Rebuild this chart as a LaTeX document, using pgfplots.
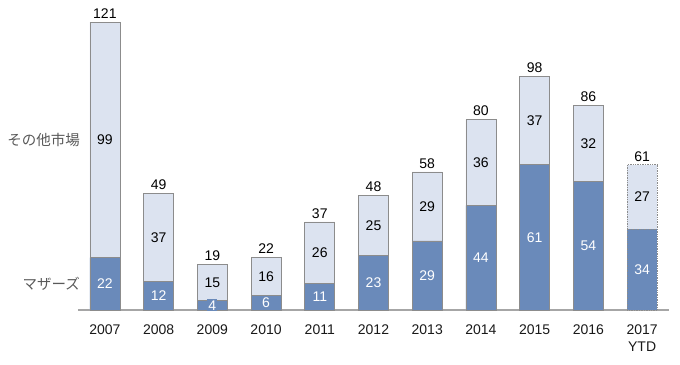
\documentclass[border=0pt]{standalone}
\usepackage{fontspec}
\setmainfont{Liberation Sans}
\newfontfamily\cjk{Noto Sans CJK JP}
\usepackage{pgfplots}
\pgfplotsset{compat=1.18}
\usepackage{pgfplotstable}
\definecolor{mblue}{HTML}{6A8ABA}
\definecolor{olight}{HTML}{DCE3F0}
\definecolor{edgegray}{HTML}{8C8C8C}
\definecolor{axisgray}{HTML}{A6A6A6}
\definecolor{labgray}{HTML}{595959}
\newcommand\numfont{\fontsize{14bp}{17bp}\selectfont}
\pgfplotstableread{
i m o t
0 22 99 121
1 12 37 49
2 4 15 19
3 6 16 22
4 11 26 37
5 23 25 48
6 29 29 58
7 44 36 80
8 61 37 98
9 54 32 86
10 34 27 61
}\data
\begin{document}
\begin{tikzpicture}
\begin{axis}[
  at={(0,0)}, anchor=south west,
  scale only axis, width=591bp, height=309.4bp,
  xmin=-0.5, xmax=10.5, ymin=0, ymax=130,
  ybar, bar width=30bp, bar shift=0pt,
  axis x line*=bottom, axis y line=none,
  x axis line style={draw=axisgray, line width=1.3bp},
  xtick={0,...,10}, major tick length=0pt,
  xticklabels={2007,2008,2009,2010,2011,2012,2013,2014,2015,2016,{2017\\YTD}},
  xticklabel style={align=center, font=\numfont, text=black!90, yshift=-11bp},
  clip=false,
  /pgf/number format/assume math mode=true,
]
\addplot[fill=olight, draw=edgegray, line width=0.7bp, restrict x to domain=0:9,
  nodes near coords, point meta=y,
  every node near coord/.append style={font=\numfont, text=black, anchor=south, yshift=0bp}]
  table[x=i, y=t]{\data};
\addplot[fill=mblue, draw=edgegray, line width=0.7bp, restrict x to domain=0:9]
  table[x=i, y=m]{\data};
\addplot[fill=olight, draw=edgegray, line width=0.7bp, densely dotted, restrict x to domain=10:10,
  nodes near coords, point meta=y,
  every node near coord/.append style={font=\numfont, text=black, anchor=south, yshift=0bp, solid}]
  table[x=i, y=t]{\data};
\addplot[fill=mblue, draw=edgegray, line width=0.7bp, densely dotted, restrict x to domain=10:10]
  table[x=i, y=m]{\data};
\addplot[draw=none, fill=none, nodes near coords, point meta=explicit,
  every node near coord/.append style={anchor=center, font=\numfont, text=white, fill=mblue, inner sep=1bp}]
  table[x=i, y expr=\thisrow{m}/2, meta=m]{\data};
\addplot[draw=none, fill=none, nodes near coords, point meta=explicit,
  every node near coord/.append style={anchor=center, font=\numfont, text=black}]
  table[x=i, y expr=\thisrow{m}+\thisrow{o}/2, meta=o]{\data};
\node[anchor=east, text=labgray, font=\cjk\fontsize{14.5bp}{17bp}\selectfont, inner sep=0pt] at (axis cs:-0.46,71.5) {その他市場};
\node[anchor=east, text=labgray, font=\cjk\fontsize{14.5bp}{17bp}\selectfont, inner sep=0pt] at (axis cs:-0.46,11) {マザーズ};
\end{axis}
\pgfresetboundingbox
\path (-78bp,-55bp) rectangle (602bp,310bp);
\end{tikzpicture}
\end{document}
